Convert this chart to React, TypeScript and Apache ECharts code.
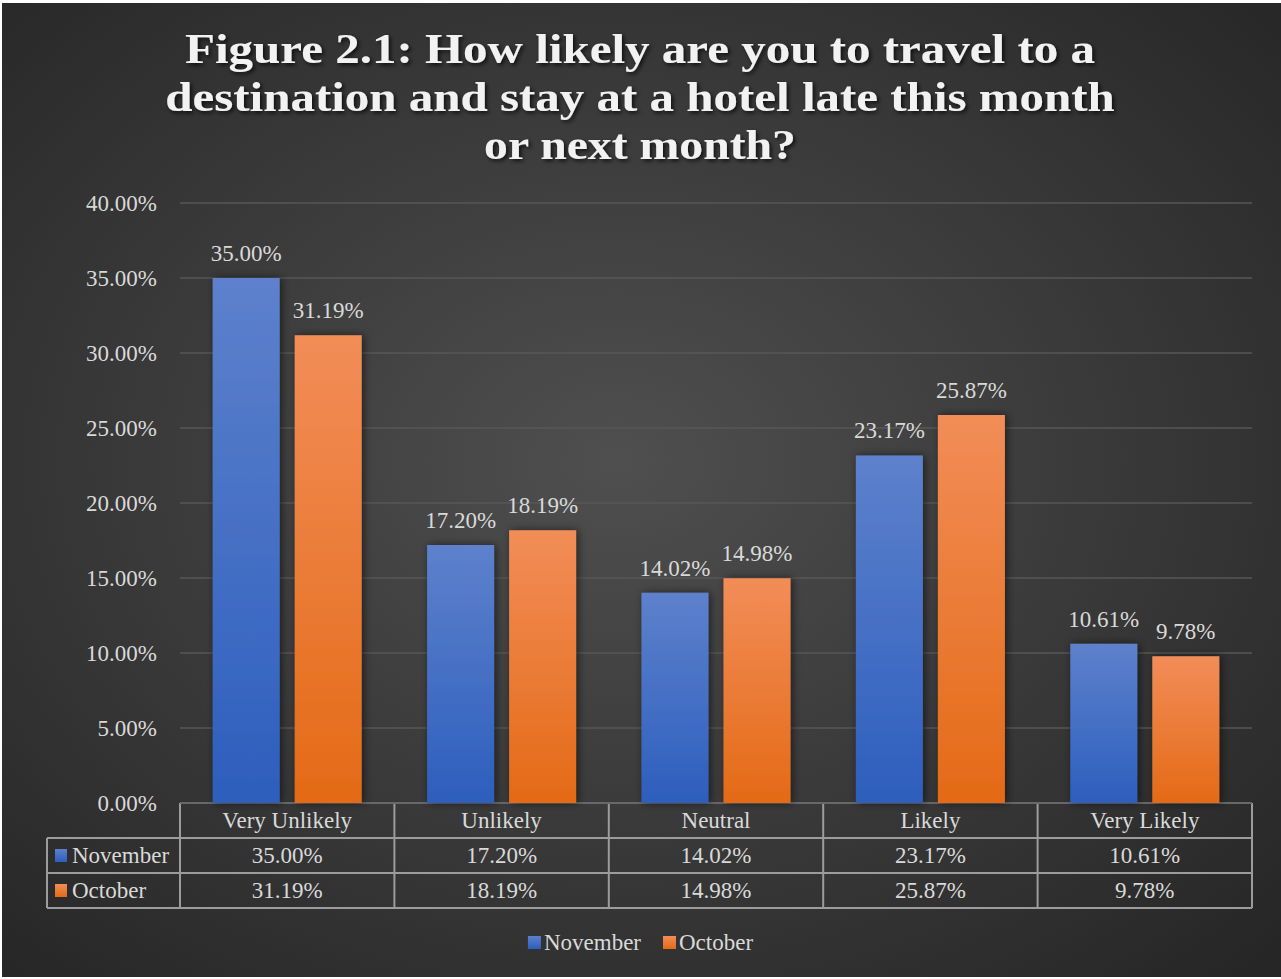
import React, { useEffect, useRef } from "react";
import * as echarts from "echarts";

// ---- data ----
const categories = ["Very Unlikely", "Unlikely", "Neutral", "Likely", "Very Likely"];
const seriesNames = ["November", "October"];
const novemberValues = [35.0, 17.2, 14.02, 23.17, 10.61];
const octoberValues = [31.19, 18.19, 14.98, 25.87, 9.78];
const titleLines = [
  "Figure 2.1: How likely are you to travel to a",
  "destination and stay at a hotel late this month",
  "or next month?",
];
const yMin = 0;
const yMax = 40;
const yInterval = 5;

// ---- layout / style ----
const W = 1281;
const H = 979;
const G = { left: 180, right: 1252, top: 203, bottom: 803 };
const FAMILY = "Liberation Serif";
const TXT = "#d9d9d9";
const FS = 23;
const TITLE_SIZE = 43;
const titleBaselines = [63, 111, 159];
const titleWidths = [910, 950, 313];
const rowY = [803, 838, 873, 908];
const tableLeft = 47;
const gridLine = "#9c9c9c";

const fmt = (v: number) => `${v.toFixed(2)}%`;

const blueGrad = () =>
  new echarts.graphic.LinearGradient(0, 0, 0, 1, [
    { offset: 0, color: "#5d81cc" },
    { offset: 1, color: "#2d5ebd" },
  ]);
const orangeGrad = () =>
  new echarts.graphic.LinearGradient(0, 0, 0, 1, [
    { offset: 0, color: "#f28d58" },
    { offset: 1, color: "#e46a16" },
  ]);

function measure(text: string, font: string) {
  const ctx = document.createElement("canvas").getContext("2d")!;
  ctx.font = font;
  return ctx.measureText(text).width;
}

export default function App() {
  const ref = useRef<HTMLDivElement>(null);
  useEffect(() => {
    if (!ref.current) return;
    const chart = echarts.init(ref.current, undefined, { renderer: "svg" });
    const catW = (G.right - G.left) / categories.length;
    const seriesData = [novemberValues, octoberValues];
    const grads = [blueGrad, orangeGrad];
    const txtStyle = (text: string, align: string) => ({
      text,
      fill: TXT,
      fontSize: FS,
      fontFamily: FAMILY,
      textAlign: align,
      textVerticalAlign: "middle",
    });

    const graphics: any[] = [];
    // background
    graphics.push({
      type: "rect",
      z: -10,
      silent: true,
      shape: { x: 2, y: 3, width: W - 2, height: 974 },
      style: {
        fill: new echarts.graphic.RadialGradient(0.48, 0.47, 0.72, [
          { offset: 0, color: "#4f4f4f" },
          { offset: 1, color: "#262626" },
        ]),
      },
    });
    // title
    const titleFont = `bold ${TITLE_SIZE}px "${FAMILY}"`;
    titleLines.forEach((t, i) => {
      const w = measure(t, titleFont);
      graphics.push({
        type: "text",
        x: 640,
        y: titleBaselines[i] - 0.3375 * TITLE_SIZE,
        scaleX: titleWidths[i] / w,
        style: {
          text: t,
          fill: "#f2f2f2",
          fontSize: TITLE_SIZE,
          fontWeight: "bold",
          fontFamily: FAMILY,
          textAlign: "center",
          textVerticalAlign: "middle",
          textShadowColor: "rgba(0,0,0,0.75)",
          textShadowBlur: 4,
          textShadowOffsetX: 2,
          textShadowOffsetY: 2,
        },
      });
    });
    // table lines
    const line = (x1: number, y1: number, x2: number, y2: number) =>
      graphics.push({
        type: "line",
        shape: { x1, y1, x2, y2 },
        style: { stroke: gridLine, lineWidth: 2 },
      });
    line(G.left, rowY[0], G.right, rowY[0]);
    for (let r = 1; r < rowY.length; r++) line(tableLeft, rowY[r], G.right, rowY[r]);
    line(tableLeft, rowY[1], tableLeft, rowY[3]);
    for (let i = 0; i <= categories.length; i++) {
      const x = G.left + i * catW;
      line(x, rowY[0], x, rowY[3]);
    }
    // table texts
    categories.forEach((c, i) => {
      const cx = G.left + (i + 0.5) * catW;
      graphics.push({ type: "text", x: cx, y: (rowY[0] + rowY[1]) / 2, style: txtStyle(c, "center") });
      seriesData.forEach((arr, s) => {
        graphics.push({
          type: "text",
          x: cx,
          y: (rowY[s + 1] + rowY[s + 2]) / 2,
          style: txtStyle(fmt(arr[i]), "center"),
        });
      });
    });
    seriesNames.forEach((n, s) => {
      const cy = (rowY[s + 1] + rowY[s + 2]) / 2;
      graphics.push({
        type: "rect",
        shape: { x: 55, y: cy - 6.5, width: 12, height: 13 },
        style: { fill: grads[s]() },
      });
      graphics.push({ type: "text", x: 72, y: cy, style: txtStyle(n, "left") });
    });

    chart.setOption({
      animation: false,
      backgroundColor: "#ffffff",
      textStyle: { fontFamily: FAMILY },
      grid: { left: G.left, top: G.top, width: G.right - G.left, height: G.bottom - G.top, containLabel: false },
      legend: {
        data: seriesNames,
        top: 926,
        left: "center",
        itemWidth: 13,
        itemHeight: 13,
        itemGap: 22,
        icon: "rect",
        textStyle: { color: TXT, fontSize: FS, fontFamily: FAMILY, padding: [0, 0, 0, -2] },
      },
      xAxis: {
        type: "category",
        data: categories,
        axisLine: { show: false },
        axisTick: { show: false },
        axisLabel: { show: false },
      },
      yAxis: {
        type: "value",
        min: yMin,
        max: yMax,
        interval: yInterval,
        axisLine: { show: false },
        axisTick: { show: false },
        axisLabel: { color: TXT, fontSize: FS, fontFamily: FAMILY, margin: 23, formatter: (v: number) => fmt(v) },
        splitLine: { lineStyle: { color: "#575757", width: 1.5 } },
      },
      series: seriesNames.map((n, s) => ({
        name: n,
        type: "bar",
        data: seriesData[s],
        barWidth: 67,
        barGap: "22.4%",
        itemStyle: {
          color: grads[s](),
          shadowBlur: 8,
          shadowColor: "rgba(0,0,0,0.55)",
          shadowOffsetX: 2,
        },
        label: {
          show: true,
          position: "top",
          distance: 13,
          color: TXT,
          fontSize: FS,
          fontFamily: FAMILY,
          formatter: (p: any) => fmt(p.value),
        },
      })),
      graphic: graphics,
    });
    return () => chart.dispose();
  }, []);
  return (
    <div style={{ position: "absolute", left: 0, top: 0, width: W, height: H, background: "#fff" }}>
      <div ref={ref} style={{ width: W, height: H }} />
    </div>
  );
}
